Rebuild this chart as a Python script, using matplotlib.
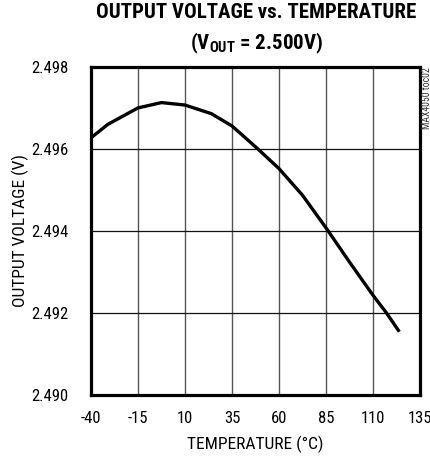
import matplotlib
matplotlib.use('Agg')
import matplotlib.pyplot as plt

# valeurs
temperature = [-40, -31, -15, -2.5, 10, 24, 35, 48.5, 60, 72.5, 86, 97.5, 110, 117, 124]
vout = [2.49626, 2.49659, 2.49699, 2.49712, 2.49706, 2.49685, 2.49655, 2.49600,
        2.49551, 2.49486, 2.49400, 2.49323, 2.49242, 2.49200, 2.49153]

xticks = [-40, -15, 10, 35, 60, 85, 110, 135]
yticks = [2.490, 2.492, 2.494, 2.496, 2.498]

narrow = ['Roboto Condensed', 'DejaVu Sans']

fig = plt.figure(figsize=(4.31, 4.58), dpi=100)
ax = fig.add_axes([0.2111, 0.1386, 0.7634, 0.7162])

ax.plot(temperature, vout, color='black', lw=2.4, solid_capstyle='butt',
        solid_joinstyle='round')

ax.set_xlim(-40, 135)
ax.set_ylim(2.490, 2.498)
ax.set_xticks(xticks)
ax.set_yticks(yticks)
ax.set_xticklabels([str(t) for t in xticks], family=narrow, fontsize=12)
ax.set_yticklabels(['%.3f' % v for v in yticks], family=narrow, fontsize=12)
ax.tick_params(length=0)
ax.tick_params(axis='x', pad=12)
ax.tick_params(axis='y', pad=16)
ax.xaxis.grid(True, color='#555555', lw=1.0)
ax.yaxis.grid(True, color='#111111', lw=0.9)

for s in ax.spines.values():
    s.set_linewidth(2.3)

ax.set_xlabel('TEMPERATURE (°C)', family=narrow, fontsize=12.5, va='center')
ax.xaxis.set_label_coords(0.5, -0.151)
ax.set_ylabel('OUTPUT VOLTAGE (V)', family=narrow, fontsize=12.5, va='center')
ax.yaxis.set_label_coords(-0.215, 0.5)

fig.text(0.595, 0.972, 'OUTPUT VOLTAGE vs. TEMPERATURE', family=narrow,
         fontweight='bold', fontsize=15, ha='center', va='center')
fig.text(0.595, 0.905, r'(V$_{\mathregular{OUT}}$ = 2.500V)', family=narrow,
         fontweight='bold', fontsize=15, ha='center', va='center')

fig.text(0.991, 0.853, 'MAX4050 toc02', family=narrow, fontsize=7,
         color='#333333', rotation=90, ha='center', va='top')

fig.savefig('out.png', dpi=100)
